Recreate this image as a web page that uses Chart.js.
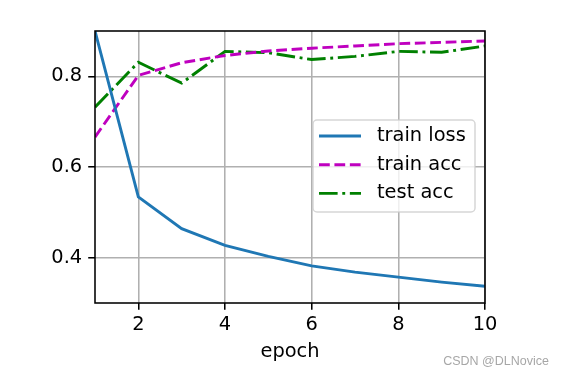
<!DOCTYPE html>
<html>
<head>
<meta charset="utf-8">
<script src="https://cdn.jsdelivr.net/npm/chart.js@4/dist/chart.umd.min.js"></script>
<style>html,body{margin:0;padding:0;background:#fff}</style>
</head>
<body>
<canvas id="myChart" width="564" height="376"></canvas>
<script>
// values
const epochs = [1, 2, 3, 4, 5, 6, 7, 8, 9, 10];
const trainLoss = [0.900, 0.534, 0.464, 0.427, 0.403, 0.382, 0.368, 0.357, 0.346, 0.337];
const trainAcc = [0.666, 0.802, 0.830, 0.846, 0.856, 0.862, 0.867, 0.872, 0.875, 0.878];
const testAcc = [0.732, 0.831, 0.785, 0.855, 0.852, 0.837, 0.844, 0.855, 0.853, 0.867];
const xTicks = [2, 4, 6, 8, 10];
const yTicks = [0.4, 0.6, 0.8];

const pt = 1.94; // px per point
const fontPx = 10 * pt;
Chart.defaults.font.family = 'DejaVu Sans';
Chart.defaults.font.size = fontPx;
Chart.defaults.color = '#000';

const toPoints = vals => epochs.map((e, i) => ({ x: e, y: vals[i] }));

// box around the plot, legend inside it, small watermark
const framePlugin = {
  id: 'frame',
  afterDraw(chart) {
    const { ctx, chartArea: a } = chart;
    ctx.save();
    ctx.strokeStyle = '#000';
    ctx.lineWidth = 0.8 * pt;
    ctx.strokeRect(a.left, a.top, a.right - a.left, a.bottom - a.top);

    // legend
    const x0 = 313, y0 = 120, w = 162, h = 92;
    ctx.beginPath();
    ctx.roundRect(x0, y0, w, h, 4);
    ctx.fillStyle = 'rgba(255,255,255,0.8)';
    ctx.fill();
    ctx.strokeStyle = 'rgba(204,204,204,0.8)';
    ctx.lineWidth = 1.5;
    ctx.stroke();
    chart.data.datasets.forEach((ds, i) => {
      const y = 136 + i * 28.7;
      ctx.beginPath();
      ctx.setLineDash(ds.borderDash || []);
      ctx.strokeStyle = ds.borderColor;
      ctx.lineWidth = ds.borderWidth;
      ctx.moveTo(319, y);
      ctx.lineTo(361, y);
      ctx.stroke();
      ctx.setLineDash([]);
      ctx.fillStyle = '#000';
      ctx.font = fontPx + 'px "DejaVu Sans"';
      ctx.textBaseline = 'middle';
      ctx.textAlign = 'left';
      ctx.fillText(ds.label, 377, y);
    });

    ctx.fillStyle = 'rgba(150,150,150,0.85)';
    ctx.font = '12.5px "Liberation Sans"';
    ctx.textAlign = 'right';
    ctx.textBaseline = 'middle';
    ctx.fillText('CSDN @DLNovice', 549, 362);
    ctx.restore();
  }
};

const ctx = document.getElementById('myChart').getContext('2d');
const myChart = new Chart(ctx, {
  type: 'line',
  data: {
    datasets: [{
      label: 'train loss',
      data: toPoints(trainLoss),
      borderColor: '#1f77b4',
      borderWidth: 1.5 * pt,
      pointRadius: 0
    }, {
      label: 'train acc',
      data: toPoints(trainAcc),
      borderColor: '#bf00bf',
      borderWidth: 1.5 * pt,
      borderDash: [5.55 * pt, 2.4 * pt],
      pointRadius: 0
    }, {
      label: 'test acc',
      data: toPoints(testAcc),
      borderColor: '#008000',
      borderWidth: 1.5 * pt,
      borderDash: [9.6 * pt, 2.4 * pt, 1.5 * pt, 2.4 * pt],
      pointRadius: 0
    }]
  },
  options: {
    responsive: false,
    animation: false,
    layout: { padding: { top: 31, right: 79, left: 0, bottom: 0 } },
    plugins: { legend: { display: false }, tooltip: { enabled: false } },
    scales: {
      x: {
        type: 'linear',
        min: 1,
        max: 10,
        afterBuildTicks: s => { s.ticks = xTicks.map(v => ({ value: v })); },
        afterFit: s => { s.height = 73; },
        ticks: { maxRotation: 0, padding: 4, callback: v => String(v) },
        grid: { color: '#b0b0b0', lineWidth: 0.8 * pt, tickColor: '#000', tickLength: 3.5 * pt },
        border: { display: false },
        title: { display: true, text: 'epoch', padding: { top: 0, bottom: 12 } }
      },
      y: {
        min: 0.3,
        max: 0.9,
        afterBuildTicks: s => { s.ticks = yTicks.map(v => ({ value: v })); },
        afterFit: s => { s.width = 95; },
        ticks: { padding: 6, callback: v => v.toFixed(1) },
        grid: { color: '#b0b0b0', lineWidth: 0.8 * pt, tickColor: '#000', tickLength: 3.5 * pt },
        border: { display: false }
      }
    }
  },
  plugins: [framePlugin]
});
</script>
</body>
</html>
